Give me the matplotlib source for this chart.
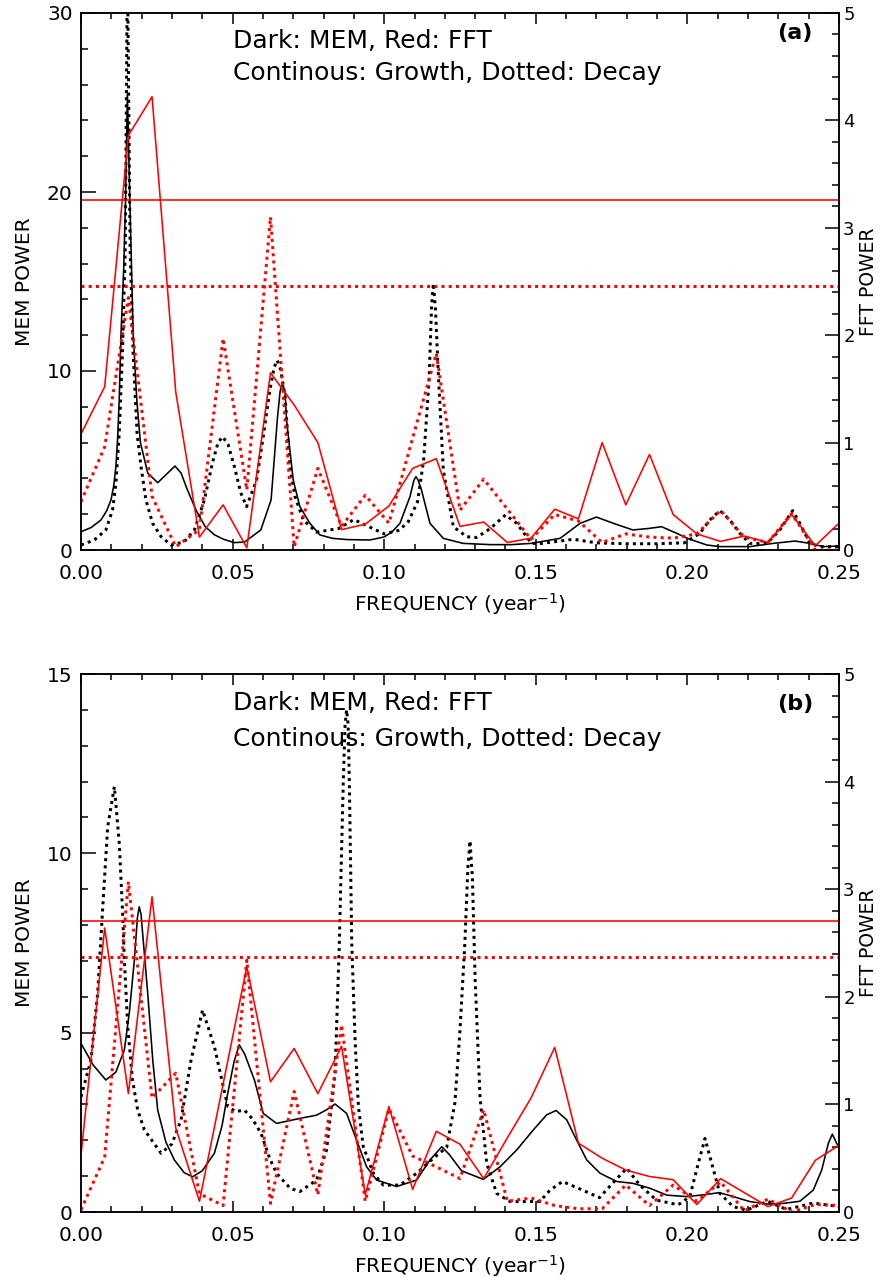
import numpy as np
import matplotlib
matplotlib.use("Agg")
import matplotlib.pyplot as plt
from matplotlib.ticker import MultipleLocator, FormatStrFormatter

plt.rcParams['font.family'] = ['DejaVu Sans']

# ---------------- data ----------------
# FFT frequencies: k/128, k = 0..32
fft_freq = [k / 128 for k in range(33)]

# Panel (a)
a_fft_growth = [1.08, 1.52, 3.86, 4.22, 1.47, 0.12, 0.42, 0.02, 1.65, 1.35,
                1.00, 0.19, 0.24, 0.41, 0.76, 0.85, 0.22, 0.26, 0.07, 0.11,
                0.38, 0.29, 1.00, 0.42, 0.89, 0.33, 0.15, 0.08, 0.13, 0.07,
                0.33, 0.04, 0.25]
a_fft_decay = [0.45, 0.96, 2.35, 0.50, 0.03, 0.19, 1.97, 0.56, 3.10, 0.03,
               0.76, 0.22, 0.51, 0.25, 1.04, 1.83, 0.37, 0.66, 0.38, 0.10,
               0.33, 0.27, 0.07, 0.15, 0.12, 0.11, 0.15, 0.37, 0.12, 0.07,
               0.34, 0.00, 0.00]
a_fft_thr_growth = 3.26
a_fft_thr_decay = 2.46

a_mem_growth_f = [0.000, 0.0033, 0.0066, 0.0085, 0.0099, 0.0108, 0.0115, 0.0121,
                  0.0126, 0.0132, 0.0141, 0.0147, 0.0153, 0.0161, 0.0172, 0.0184,
                  0.0196, 0.022, 0.0253, 0.028, 0.031, 0.033, 0.035, 0.038,
                  0.041, 0.044, 0.047, 0.0506, 0.054, 0.0593, 0.0627, 0.0648,
                  0.0657, 0.0665, 0.0673, 0.0678, 0.070, 0.0722, 0.0755, 0.0788,
                  0.083, 0.088, 0.0953, 0.100, 0.1025, 0.1052, 0.1085, 0.1098,
                  0.1105, 0.1112, 0.1123, 0.1151, 0.1195, 0.126, 0.135, 0.142,
                  0.1485, 0.158, 0.1646, 0.170, 0.1756, 0.182, 0.187, 0.1915,
                  0.1965, 0.200, 0.2064, 0.2107, 0.2206, 0.2283, 0.2355, 0.2404,
                  0.2448, 0.250]
a_mem_growth = [1.02, 1.25, 1.68, 2.2, 2.8, 3.6, 4.65, 6.3,
                8.4, 12.1, 15.8, 19.6, 25.5, 19.6, 12.1, 8.4,
                6.0, 4.3, 3.76, 4.2, 4.69, 4.3, 3.4, 2.2,
                1.3, 0.85, 0.6, 0.41, 0.45, 1.12, 2.8, 7.4,
                8.9, 9.3, 8.8, 7.26, 3.9, 2.42, 1.49, 0.84,
                0.65, 0.58, 0.56, 0.73, 1.0, 1.49, 2.98, 3.9,
                4.1, 3.9, 3.35, 1.49, 0.65, 0.37, 0.3, 0.3,
                0.37, 0.65, 1.49, 1.84, 1.49, 1.12, 1.2, 1.3,
                0.93, 0.65, 0.28, 0.19, 0.19, 0.37, 0.5, 0.37,
                0.19, 0.22]

a_mem_decay_f = [0.000, 0.0044, 0.0082, 0.0104, 0.0115, 0.0126, 0.0137, 0.0146,
                 0.0153, 0.0162, 0.0172, 0.0185, 0.0198, 0.0214, 0.0236, 0.0264,
                 0.0297, 0.034, 0.0374, 0.0407, 0.0434, 0.0452, 0.0467, 0.0485,
                 0.0506, 0.0527, 0.0546, 0.0579, 0.0601, 0.0623, 0.0637, 0.0647,
                 0.0658, 0.0673, 0.0689, 0.0706, 0.0733, 0.0777, 0.085, 0.090,
                 0.095, 0.100, 0.105, 0.108, 0.111, 0.113, 0.1148, 0.1156,
                 0.1162, 0.1169, 0.1178, 0.1195, 0.1228, 0.1272, 0.1305, 0.135,
                 0.140, 0.1437, 0.147, 0.1485, 0.152, 0.1624, 0.170, 0.180,
                 0.190, 0.199, 0.2041, 0.2074, 0.2107, 0.214, 0.2173, 0.2206,
                 0.2263, 0.2305, 0.2347, 0.2371, 0.2404, 0.2437, 0.250]
a_mem_decay = [0.28, 0.56, 1.12, 2.23, 3.7, 6.5, 11.2, 16.8,
               33.0, 16.8, 11.0, 6.5, 4.65, 2.8, 1.5, 0.75,
               0.28, 0.45, 1.12, 2.8, 4.9, 6.0, 6.33, 5.9,
               4.65, 3.2, 2.42, 3.9, 6.33, 8.94, 10.2, 10.6,
               10.1, 8.57, 4.65, 2.98, 1.68, 1.0, 1.2, 1.7,
               1.3, 0.9, 1.1, 1.6, 2.7, 5.0, 9.5, 13.5,
               14.9, 13.5, 10.0, 4.47, 1.3, 0.74, 0.7, 1.2,
               1.96, 1.49, 0.74, 0.37, 0.37, 0.6, 0.4, 0.35,
               0.35, 0.4, 0.93, 1.68, 2.2, 1.68, 0.93, 0.37,
               0.37, 1.12, 2.2, 1.49, 0.37, 0.19, 0.19]

# Panel (b)
b_fft_growth = [0.53, 2.64, 1.10, 2.93, 0.78, 0.10, 1.19, 2.28, 1.21, 1.52,
                1.10, 1.54, 0.16, 0.98, 0.21, 0.75, 0.63, 0.31, 0.69, 1.06,
                1.53, 0.64, 0.50, 0.39, 0.33, 0.30, 0.07, 0.31, 0.18, 0.05,
                0.13, 0.48, 0.62]
b_fft_decay = [0.02, 0.51, 3.07, 1.06, 1.29, 0.17, 0.06, 2.34, 0.08, 1.12,
               0.16, 1.74, 0.10, 0.96, 0.52, 0.42, 0.31, 0.95, 0.10, 0.13,
               0.06, 0.03, 0.03, 0.25, 0.06, 0.25, 0.10, 0.28, 0.01, 0.12,
               0.00, 0.07, 0.06]
b_fft_thr_growth = 2.70
b_fft_thr_decay = 2.37

b_mem_growth_f = [0.000, 0.004, 0.0082, 0.0115, 0.0143, 0.016, 0.0176, 0.0186,
                  0.0192, 0.0198, 0.0205, 0.022, 0.0237, 0.0253, 0.028, 0.0308,
                  0.034, 0.0368, 0.040, 0.044, 0.0465, 0.0484, 0.0505, 0.0522,
                  0.054, 0.0572, 0.0601, 0.0645, 0.0722, 0.0777, 0.081, 0.0838,
                  0.0876, 0.0909, 0.0942, 0.0975, 0.1041, 0.1107, 0.1151, 0.119,
                  0.1215, 0.1255, 0.1327, 0.1382, 0.1437, 0.1492, 0.1536, 0.1567,
                  0.1602, 0.1635, 0.1668, 0.1712, 0.1767, 0.182, 0.1877, 0.1932,
                  0.1998, 0.2055, 0.2105, 0.2151, 0.2206, 0.2265, 0.2316, 0.2371,
                  0.2415, 0.2443, 0.2465, 0.2478, 0.2492, 0.250]
b_mem_growth = [4.70, 4.1, 3.68, 3.9, 4.52, 5.6, 7.03, 8.2,
                8.51, 8.3, 7.6, 6.1, 4.2, 2.84, 1.95, 1.45,
                1.1, 0.98, 1.15, 1.64, 2.4, 3.31, 4.2, 4.66,
                4.4, 3.68, 2.75, 2.47, 2.61, 2.7, 2.85, 3.01,
                2.75, 2.0, 1.26, 0.89, 0.71, 0.89, 1.45, 1.82,
                1.6, 1.15, 0.91, 1.26, 1.73, 2.29, 2.71, 2.83,
                2.57, 2.0, 1.45, 1.08, 0.85, 0.8, 0.66, 0.47,
                0.43, 0.48, 0.54, 0.43, 0.29, 0.22, 0.24, 0.3,
                0.61, 1.17, 1.92, 2.17, 1.92, 1.8]

b_mem_decay_f = [0.000, 0.0033, 0.0055, 0.0071, 0.0088, 0.011, 0.0126, 0.0137,
                 0.0143, 0.0154, 0.017, 0.0187, 0.0209, 0.0264, 0.030, 0.033,
                 0.0363, 0.0401, 0.044, 0.0484, 0.051, 0.0539, 0.0565, 0.0594,
                 0.0622, 0.0645, 0.069, 0.0722, 0.0777, 0.081, 0.0838, 0.0852,
                 0.0865, 0.0871, 0.0876, 0.0881, 0.0885, 0.0893, 0.0904, 0.0915,
                 0.0931, 0.0964, 0.0997, 0.1052, 0.1107, 0.1162, 0.1206, 0.1233,
                 0.125, 0.1266, 0.1276, 0.1283, 0.1291, 0.130, 0.1316, 0.1338,
                 0.1371, 0.1415, 0.1513, 0.1547, 0.1588, 0.1657, 0.171, 0.1753,
                 0.180, 0.1843, 0.1898, 0.197, 0.2008, 0.2036, 0.2058, 0.208,
                 0.2107, 0.2151, 0.2195, 0.2265, 0.2327, 0.2415, 0.250]
b_mem_decay = [3.21, 4.24, 6.1, 8.4, 10.74, 11.86, 10.3, 8.4,
               7.03, 5.17, 3.68, 2.84, 2.29, 1.64, 1.9, 2.57,
               4.24, 5.63, 4.61, 2.94, 2.8, 2.84, 2.6, 2.19,
               1.5, 1.08, 0.66, 0.57, 0.89, 1.73, 3.87, 7.49,
               12.0, 13.6, 14.0, 13.6, 12.0, 7.49, 4.79, 2.94,
               1.82, 1.08, 0.75, 0.75, 1.08, 1.5, 1.8, 3.03,
               5.07, 7.49, 9.6, 10.35, 9.3, 6.47, 3.21, 1.36,
               0.52, 0.29, 0.29, 0.61, 0.85, 0.6, 0.4, 0.8,
               1.22, 0.75, 0.33, 0.2, 0.43, 1.36, 2.05, 1.36,
               0.52, 0.15, 0.05, 0.3, 0.07, 0.25, 0.15]

panel_labels = ["(a)", "(b)"]
mem_ylims = [30, 15]
mem_major = [10, 5]
mem_minor = [2, 1]
legend_line1 = "Dark: MEM, Red: FFT"
legend_line2 = "Continous: Growth, Dotted: Decay"

# ---------------- figure ----------------
W, H = 882, 1277
fig = plt.figure(figsize=(W / 100, H / 100), dpi=100)

def axrect(l, t, r, b):
    return [l / W, 1 - b / H, (r - l) / W, (b - t) / H]

rects = [axrect(81, 13, 839, 550), axrect(81, 674, 839, 1212)]

panels = [
    dict(mem_g=(a_mem_growth_f, a_mem_growth), mem_d=(a_mem_decay_f, a_mem_decay),
         fft_g=a_fft_growth, fft_d=a_fft_decay,
         thr_g=a_fft_thr_growth, thr_d=a_fft_thr_decay, txt_y=(0.935, 0.875), lab_y=0.963),
    dict(mem_g=(b_mem_growth_f, b_mem_growth), mem_d=(b_mem_decay_f, b_mem_decay),
         fft_g=b_fft_growth, fft_d=b_fft_decay,
         thr_g=b_fft_thr_growth, thr_d=b_fft_thr_decay, txt_y=(0.933, 0.866), lab_y=0.945),
]

FS = 14.5
dot_style = (0, (1.0, 1.4))
px = 0.72

for i, (rect, p) in enumerate(zip(rects, panels)):
    ax = fig.add_axes(rect)
    ax2 = ax.twinx()

    ax.plot(p['mem_g'][0], p['mem_g'][1], color='black', lw=1.6 * px)
    ax.plot(p['mem_d'][0], p['mem_d'][1], color='black', lw=3.0 * px, linestyle=dot_style)

    ax2.plot(fft_freq, p['fft_g'], color='#ff0000', lw=1.6 * px)
    ax2.plot(fft_freq, p['fft_d'], color='#ff0000', lw=3.0 * px, linestyle=dot_style)
    ax2.axhline(p['thr_g'], color='#ff0000', lw=1.6 * px)
    ax2.axhline(p['thr_d'], color='#ff0000', lw=3.0 * px, linestyle=dot_style)

    ax.set_xlim(0, 0.25)
    ax.set_ylim(0, mem_ylims[i])
    ax2.set_ylim(0, 5)

    ax.xaxis.set_major_locator(MultipleLocator(0.05))
    ax.xaxis.set_minor_locator(MultipleLocator(0.01))
    ax.xaxis.set_major_formatter(FormatStrFormatter('%.2f'))
    ax.yaxis.set_major_locator(MultipleLocator(mem_major[i]))
    ax.yaxis.set_minor_locator(MultipleLocator(mem_minor[i]))
    ax2.yaxis.set_major_locator(MultipleLocator(1))
    ax2.yaxis.set_minor_locator(MultipleLocator(0.2))

    for a in (ax, ax2):
        for s in a.spines.values():
            s.set_linewidth(1.1)

    ax.tick_params(axis='x', which='both', direction='in', top=True, bottom=True,
                   width=1.1, labelsize=FS, pad=10)
    ax.tick_params(axis='x', which='major', length=8)
    ax.tick_params(axis='x', which='minor', length=4.3)
    ax.tick_params(axis='y', which='both', direction='in', left=True, right=False,
                   width=1.1, labelsize=FS, pad=6)
    ax.tick_params(axis='y', which='major', length=11)
    ax.tick_params(axis='y', which='minor', length=5)
    ax2.tick_params(axis='y', which='both', direction='in', left=False, right=True,
                    width=1.1, labelsize=13, pad=3)
    ax2.tick_params(axis='y', which='major', length=10)
    ax2.tick_params(axis='y', which='minor', length=5)

    ax.set_xlabel("FREQUENCY (year$^{-1}$)", fontsize=FS, labelpad=6)
    ax.set_ylabel("MEM POWER", fontsize=FS)
    ax.yaxis.set_label_coords(-0.0620, 0.5)
    ax2.set_ylabel("FFT POWER", fontsize=13.5)
    ax2.yaxis.set_label_coords(1.0265, 0.5)

    ax.text(0.2005, p['txt_y'][0], legend_line1, transform=ax.transAxes,
            fontsize=18, ha='left', va='baseline')
    ax.text(0.2005, p['txt_y'][1], legend_line2, transform=ax.transAxes,
            fontsize=18, ha='left', va='baseline')
    ax.text(0.942, p['lab_y'], panel_labels[i], transform=ax.transAxes,
            fontsize=16, fontweight='bold', ha='center', va='center')

fig.savefig("out.png", dpi=100)
